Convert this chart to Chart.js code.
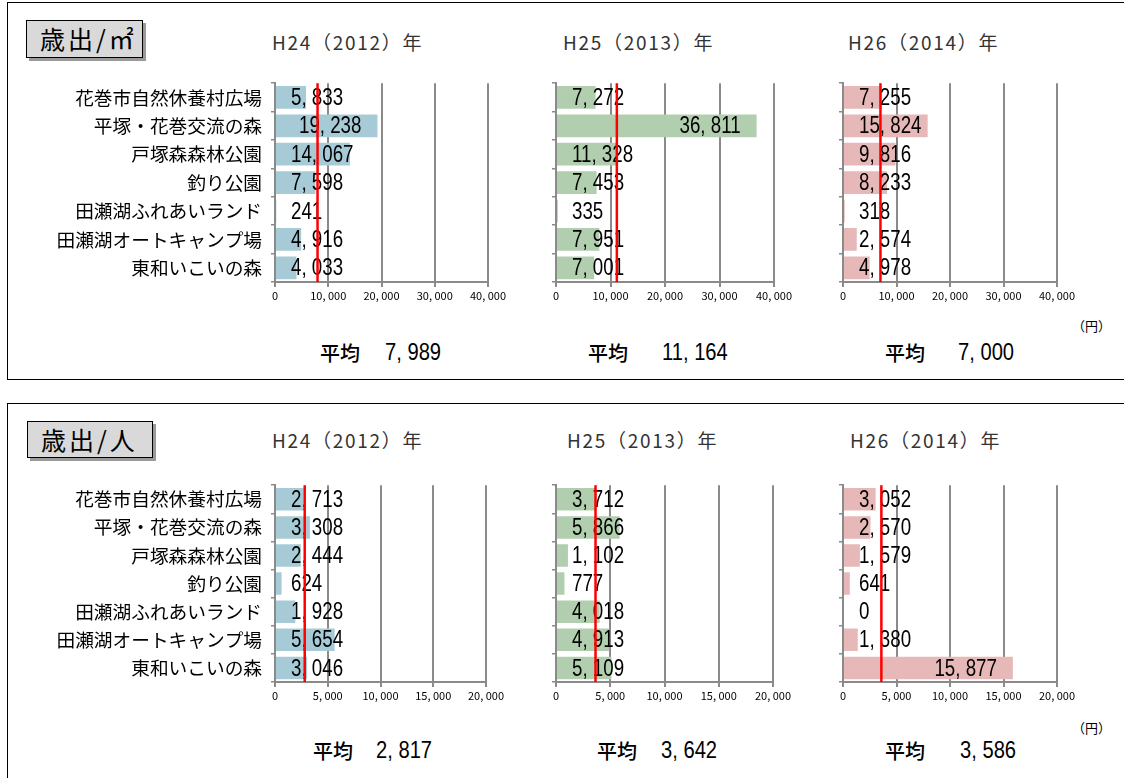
<!DOCTYPE html>
<html><head><meta charset="utf-8">
<script src="https://cdn.jsdelivr.net/npm/chart.js@4.4.1/dist/chart.umd.min.js"></script>
<style>
html,body{margin:0;padding:0;background:#fff;}
body{width:1124px;height:778px;position:relative;overflow:hidden;font-family:"Noto Sans CJK JP",sans-serif;color:#000;}
.panel{position:absolute;border:1.5px solid #000;box-sizing:border-box;}
.tbox{position:absolute;background:#d9d9d9;border:1.5px solid #000;box-sizing:border-box;box-shadow:3px 3px 0 #9a9a9a;font-size:25px;line-height:34px;padding-left:13px;letter-spacing:3px;white-space:nowrap;}
.ytitle{position:absolute;font-size:19px;line-height:22px;color:#333;white-space:nowrap;letter-spacing:1.7px;transform:translateY(-50%);}
.avg{position:absolute;font-size:20px;font-weight:500;white-space:nowrap;transform:translateY(-50%);}
.avgv{position:absolute;font-family:"Liberation Sans",Arial,sans-serif;font-size:24px;white-space:nowrap;transform-origin:0 50%;transform:translateY(-50%) scaleX(0.84);}
.yen{position:absolute;font-size:13px;white-space:nowrap;transform:translateY(-50%);}
canvas{position:absolute;}
</style>
</head><body>
<script>
// ---- data ----
const categories = ['花巻市自然休養村広場','平塚・花巻交流の森','戸塚森森林公園','釣り公園','田瀬湖ふれあいランド','田瀬湖オートキャンプ場','東和いこいの森'];
const years = ['H24（2012）年','H25（2013）年','H26（2014）年'];
const perArea2012 = [5833,19238,14067,7598,241,4916,4033];
const perArea2013 = [7272,36811,11328,7453,335,7951,7001];
const perArea2014 = [7255,15824,9816,8233,318,2574,4978];
const perAreaAvg = [7989,11164,7000];
const perPerson2012 = [2713,3308,2444,624,1928,5654,3046];
const perPerson2013 = [3712,5866,1102,777,4018,4913,5109];
const perPerson2014 = [3052,2570,1579,641,0,1380,15877];
const perPersonAvg = [2817,3642,3586];
const perAreaTicks = [0,10000,20000,30000,40000];
const perPersonTicks = [0,5000,10000,15000,20000];
const panelTitles = ['歳出/㎡','歳出/人'];
const unitLabel = '（円）';
const avgLabel = '平均';

// ---- styles / layout ----
const barColors = ['#a6cbd6','#b1cfae','#e6b9b8'];
const gridColor = '#8a8a8a';
const LABEL_SCALE = 0.78;
const fmt = v => v.toLocaleString('en-US').replace(/,/g, ', ');

const panels = [
  {top:2, height:378, title:panelTitles[0], tbox:{left:26,top:20,width:117,height:38},
   series:[perArea2012,perArea2013,perArea2014], avg:perAreaAvg, ticks:perAreaTicks,
   plotTop:69, plotH:213, axisX:[275,556,843], plotW:[213,218,214],
   yearY:42, yearX:[272,563,848], avgY:352, avgLX:[320,588,885], avgVX:[385,662,958], yenY:325},
  {top:403, height:400, title:panelTitles[1], tbox:{left:27,top:421,width:126,height:37},
   series:[perPerson2012,perPerson2013,perPerson2014], avg:perPersonAvg, ticks:perPersonTicks,
   plotTop:471, plotH:211, axisX:[275,556,843], plotW:[211,217,214],
   yearY:440, yearX:[272,567,850], avgY:750, avgLX:[313,597,885], avgVX:[376,661,960], yenY:727}
];

function addDiv(cls, text, css){
  const d=document.createElement('div'); d.className=cls; d.textContent=text;
  Object.assign(d.style, css); document.body.appendChild(d); return d;
}

panels.forEach((p,pi)=>{
  addDiv('panel','',{left:'7px',top:p.top+'px',width:'1130px',height:p.height+'px'});
  addDiv('tbox',p.title,{left:p.tbox.left+'px',top:p.tbox.top+'px',width:p.tbox.width+'px',height:p.tbox.height+'px'});
  addDiv('yen',unitLabel,{left:'1072px',top:p.yenY+'px'});
  for(let i=0;i<3;i++){
    addDiv('ytitle',years[i],{left:p.yearX[i]+'px',top:p.yearY+'px'});
    addDiv('avg',avgLabel,{left:p.avgLX[i]+'px',top:p.avgY+'px'});
    addDiv('avgv',fmt(p.avg[i]),{left:p.avgVX[i]+'px',top:p.avgY+'px'});
    makeChart(p, pi, i);
  }
});

function makeChart(p, pi, i){
  const first = i===0;
  const yW = first ? 240 : 20;
  const padTop = 6, padRight = 36, xH = 30;
  const values = p.series[i];
  const avg = p.avg[i];
  const cv = document.createElement('canvas');
  const W = yW + p.plotW[i] + padRight, H = padTop + p.plotH + xH;
  cv.width = W; cv.height = H;
  cv.style.left = (p.axisX[i]-yW)+'px';
  cv.style.top = (p.plotTop-padTop)+'px';
  cv.style.width = W+'px'; cv.style.height = H+'px';
  document.body.appendChild(cv);
  const tickVals = p.ticks;
  const overlay = {
    id:'overlay'+pi+i,
    afterDatasetsDraw(chart){
      const ctx = chart.ctx, xs = chart.scales.x, area = chart.chartArea;
      const base = xs.getPixelForValue(0);
      ctx.save();
      ctx.font = '24px "Liberation Sans",Arial,sans-serif';
      ctx.fillStyle = '#000';
      ctx.textBaseline = 'middle';
      ctx.textAlign = 'left';
      chart.getDatasetMeta(0).data.forEach((bar,k)=>{
        const txt = fmt(values[k]);
        const w = ctx.measureText(txt).width * LABEL_SCALE;
        const left = Math.max(base+16, bar.x-16-w);
        ctx.save();
        ctx.translate(left, bar.y+1);
        ctx.scale(LABEL_SCALE, 1);
        ctx.fillText(txt, 0, 0);
        ctx.restore();
      });
      const ax = xs.getPixelForValue(avg);
      ctx.strokeStyle = '#ff0000';
      ctx.lineWidth = 2.5;
      ctx.beginPath();
      ctx.moveTo(ax, area.top);
      ctx.lineTo(ax, area.bottom);
      ctx.stroke();
      ctx.restore();
    }
  };
  new Chart(cv, {
    type:'bar',
    data:{labels:categories, datasets:[{data:values, backgroundColor:barColors[i], borderWidth:0, barPercentage:0.8, categoryPercentage:1.0}]},
    options:{
      indexAxis:'y', responsive:false, animation:false, devicePixelRatio:1,
      layout:{padding:{top:padTop,right:padRight,left:0,bottom:0}},
      plugins:{legend:{display:false}, tooltip:{enabled:false}},
      scales:{
        x:{type:'linear', min:tickVals[0], max:tickVals[tickVals.length-1],
          afterBuildTicks:(s)=>{ s.ticks = tickVals.map(v=>({value:v})); },
          grid:{color:gridColor, lineWidth:2, drawTicks:true, tickLength:5, tickColor:gridColor},
          border:{display:true, color:gridColor, width:2},
          ticks:{color:'#000', font:{family:'"Noto Sans CJK JP"', size:11}, padding:2, maxRotation:0, autoSkip:false, callback:(v)=>fmt(v)},
          afterFit:(s)=>{ s.height = xH; }
        },
        y:{type:'category', offset:true,
          grid:{display:true, offset:true, drawOnChartArea:false, drawTicks:true, tickLength:4, color:gridColor, lineWidth:1.5},
          border:{display:true, color:gridColor, width:2},
          ticks:{color:'#000', font:{family:'"Noto Sans CJK JP"', size:18.7}, padding:9, autoSkip:false,
            callback:(v,k)=> first ? categories[k] : ''},
          afterFit:(s)=>{ s.width = yW; }
        }
      }
    },
    plugins:[overlay]
  });
}
</script>
</body></html>
